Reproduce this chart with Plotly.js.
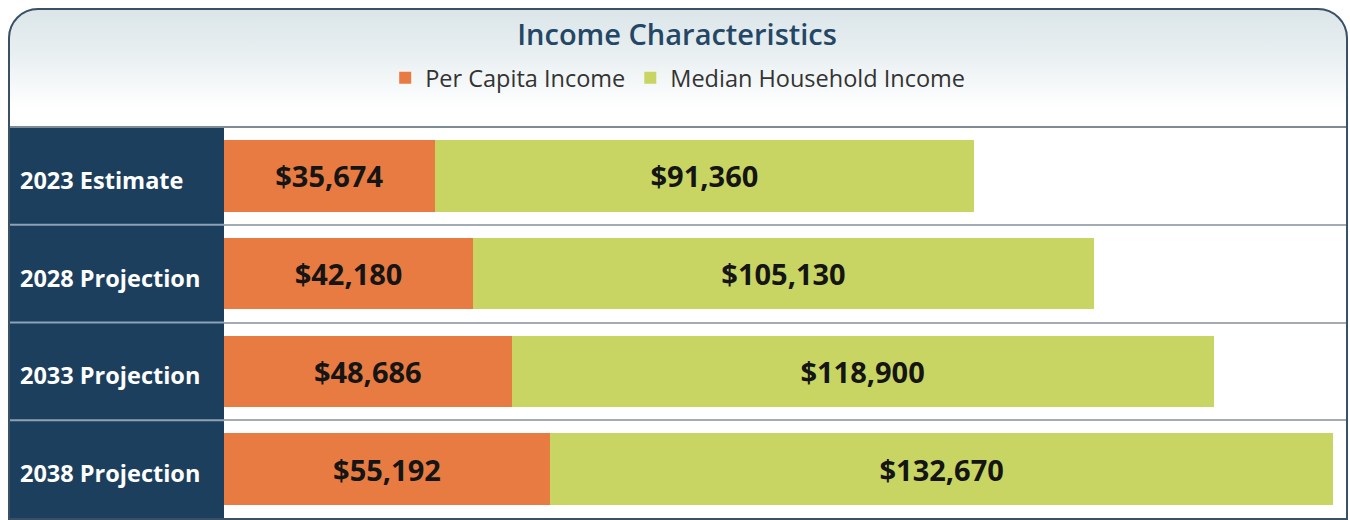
<!DOCTYPE html>
<html>
<head>
<meta charset="utf-8">
<script src="https://cdn.plot.ly/plotly-3.0.1.min.js"></script>
<style>
  html, body { margin: 0; padding: 0; background: #ffffff; }
  #wrap { position: relative; width: 1350px; height: 520px; overflow: hidden; }
  #bg { position: absolute; left: 8px; top: 8px; width: 1340px; height: 510px;
        border-radius: 30px 30px 0 0;
        background: linear-gradient(to bottom, #dbe5e8 0px, #e8eff1 45px, #ffffff 100px, #ffffff 100%); }
  #chart { position: absolute; left: 0; top: 0; width: 1350px; height: 520px; }
  #frame { position: absolute; left: 8px; top: 8px; width: 1336px; height: 508px;
           border: 2px solid #3a5064; border-radius: 30px 30px 0 0; pointer-events: none; }
</style>
</head>
<body>
<div id="wrap">
  <div id="bg"></div>
  <div id="chart"></div>
  <div id="frame"></div>
</div>
<script>
const categories = ['2023 Estimate', '2028 Projection', '2033 Projection', '2038 Projection'];
const perCapitaIncome = [35674, 42180, 48686, 55192];
const medianHouseholdIncome = [91360, 105130, 118900, 132670];
const seriesNames = ['Per Capita Income', 'Median Household Income'];
const chartTitle = 'Income Characteristics';

const FONT = 'Open Sans, Noto Sans, DejaVu Sans, sans-serif';
const W = 1350, H = 520;
const M = { l: 224, r: 4, t: 127, b: 2 };
const plotW = W - M.l - M.r;
const plotH = H - M.t - M.b;

const labelFont = { family: FONT, size: 29, color: '#151515', weight: 700 };

const traces = [
  {
    type: 'bar', orientation: 'h', name: seriesNames[0],
    y: categories, x: perCapitaIncome,
    marker: { color: '#E87B41', line: { width: 0 } },
    texttemplate: '$%{x:,.0f}', textposition: 'inside', insidetextanchor: 'middle',
    textangle: 0, constraintext: 'none', textfont: labelFont, insidetextfont: labelFont,
    hoverinfo: 'skip'
  },
  {
    type: 'bar', orientation: 'h', name: seriesNames[1],
    y: categories, x: medianHouseholdIncome,
    marker: { color: '#C8D563', line: { width: 0 } },
    texttemplate: '$%{x:,.0f}', textposition: 'inside', insidetextanchor: 'middle',
    textangle: 0, constraintext: 'none', textfont: labelFont, insidetextfont: labelFont,
    hoverinfo: 'skip'
  }
];

const n = categories.length;
const navyX0 = -(M.l - 10) / plotW;
const shapes = [
  { type: 'rect', xref: 'paper', yref: 'paper', x0: navyX0, x1: 0, y0: -M.b / plotH, y1: 1,
    fillcolor: '#1D3F5E', line: { width: 0 }, layer: 'below' },
  { type: 'line', xref: 'paper', yref: 'paper', x0: navyX0, x1: 1, y0: 1, y1: 1,
    line: { color: '#7d8a97', width: 2 } }
];
for (let i = 1; i < n; i++) {
  shapes.push({ type: 'line', xref: 'paper', yref: 'paper', x0: navyX0, x1: 0,
    y0: 1 - i / n, y1: 1 - i / n, line: { color: '#8da2b6', width: 2 } });
}

const annotations = categories.map(c => ({
  xref: 'paper', yref: 'y', x: (18 - M.l) / plotW, y: c, yshift: -4,
  xanchor: 'left', yanchor: 'middle', showarrow: false, text: c,
  font: { family: FONT, size: 23.5, color: '#ffffff', weight: 700 }
}));

const layout = {
  width: W, height: H,
  margin: M,
  paper_bgcolor: 'rgba(0,0,0,0)',
  plot_bgcolor: '#ffffff',
  barmode: 'stack',
  bargap: 0.27,
  showlegend: true,
  title: {
    text: chartTitle, xref: 'container', yref: 'container',
    x: 0.5015, xanchor: 'center', y: 1 - 35 / H, yanchor: 'middle',
    font: { family: FONT, size: 29, color: '#244766', weight: 600 }
  },
  legend: {
    orientation: 'h', xref: 'container', yref: 'container',
    x: 0.502, xanchor: 'center', y: 1 - 78 / H, yanchor: 'middle',
    font: { family: FONT, size: 23.5, color: '#333333' },
    bgcolor: 'rgba(0,0,0,0)', traceorder: 'normal', itemwidth: 30
  },
  xaxis: {
    range: [0, 190000], showgrid: false, zeroline: false, showticklabels: false,
    ticks: '', showline: false, fixedrange: true
  },
  yaxis: {
    type: 'category', categoryorder: 'array', categoryarray: categories,
    autorange: 'reversed', tickson: 'boundaries', showgrid: true,
    gridcolor: '#a3acb5', gridwidth: 2, showticklabels: false, ticks: '',
    zeroline: false, showline: false, fixedrange: true
  },
  shapes: shapes,
  annotations: annotations
};

Plotly.newPlot('chart', traces, layout, { displayModeBar: false, staticPlot: true });
</script>
</body>
</html>
